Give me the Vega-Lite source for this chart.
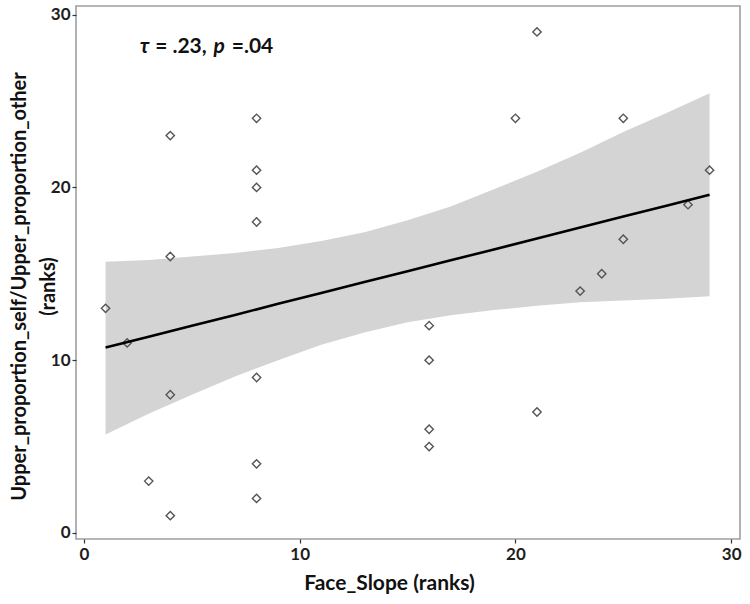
{
  "$schema": "https://vega.github.io/schema/vega-lite/v6.json",
  "width": 664,
  "height": 533,
  "autosize": "none",
  "padding": {"left": 76, "top": 6, "right": 10, "bottom": 65},
  "background": "white",
  "config": {
    "view": {"stroke": "#9e9e9e", "strokeWidth": 1.6},
    "font": "Lato",
    "axis": {
      "domain": false,
      "grid": false,
      "ticks": true,
      "tickColor": "#333333",
      "tickSize": 4,
      "tickWidth": 1.2,
      "labelFont": "Lato",
      "labelFontSize": 17,
      "labelFontWeight": "bold",
      "labelColor": "#1e1e1e",
      "titleFont": "Lato",
      "titleFontSize": 21,
      "titleFontWeight": "bold",
      "titleColor": "#111111"
    }
  },
  "datasets": {
    "pts": [
      {"face": 1, "upper": 13}, {"face": 2, "upper": 11}, {"face": 3, "upper": 3},
      {"face": 4, "upper": 23}, {"face": 4, "upper": 16}, {"face": 4, "upper": 8}, {"face": 4, "upper": 1},
      {"face": 8, "upper": 24}, {"face": 8, "upper": 21}, {"face": 8, "upper": 20}, {"face": 8, "upper": 18},
      {"face": 8, "upper": 9}, {"face": 8, "upper": 4}, {"face": 8, "upper": 2},
      {"face": 16, "upper": 12}, {"face": 16, "upper": 10}, {"face": 16, "upper": 6}, {"face": 16, "upper": 5},
      {"face": 20, "upper": 24}, {"face": 21, "upper": 29}, {"face": 21, "upper": 7},
      {"face": 23, "upper": 14}, {"face": 24, "upper": 15}, {"face": 25, "upper": 24}, {"face": 25, "upper": 17},
      {"face": 28, "upper": 19}, {"face": 29, "upper": 21}
    ],
    "band": [
      {"face": 1, "lo": 5.7, "fit": 10.73, "hi": 15.7},
      {"face": 3, "lo": 6.9, "fit": 11.36, "hi": 15.8},
      {"face": 5, "lo": 8.0, "fit": 11.99, "hi": 16.0},
      {"face": 7, "lo": 9.05, "fit": 12.62, "hi": 16.2},
      {"face": 9, "lo": 10.0, "fit": 13.26, "hi": 16.5},
      {"face": 11, "lo": 10.9, "fit": 13.89, "hi": 16.9},
      {"face": 13, "lo": 11.6, "fit": 14.52, "hi": 17.4},
      {"face": 15, "lo": 12.2, "fit": 15.15, "hi": 18.1},
      {"face": 17, "lo": 12.6, "fit": 15.78, "hi": 18.9},
      {"face": 19, "lo": 12.9, "fit": 16.41, "hi": 19.9},
      {"face": 21, "lo": 13.15, "fit": 17.04, "hi": 20.9},
      {"face": 23, "lo": 13.35, "fit": 17.68, "hi": 22.0},
      {"face": 25, "lo": 13.45, "fit": 18.31, "hi": 23.2},
      {"face": 27, "lo": 13.55, "fit": 18.94, "hi": 24.3},
      {"face": 29, "lo": 13.7, "fit": 19.57, "hi": 25.45}
    ],
    "note": [
      {"x": 2.6, "y": 27.8, "txt": "τ", "it": true},
      {"x": 3.3, "y": 27.8, "txt": "= .23,", "it": false},
      {"x": 6.0, "y": 27.8, "txt": "p", "it": true},
      {"x": 6.85, "y": 27.8, "txt": "=.04", "it": false}
    ]
  },
  "layer": [
    {
      "data": {"name": "band"},
      "mark": {"type": "area", "color": "#d4d4d4", "opacity": 1},
      "encoding": {
        "x": {
          "field": "face", "type": "quantitative",
          "scale": {"domain": [-0.37, 30.41], "nice": false, "zero": false},
          "axis": {
            "values": [0, 10, 20, 30],
            "title": "Face_Slope (ranks)",
            "labelPadding": 3,
            "titleX": 313,
            "titleY": 44,
            "titleBaseline": "middle"
          }
        },
        "y": {
          "field": "lo", "type": "quantitative",
          "scale": {"domain": [-0.35, 30.5], "nice": false, "zero": false},
          "axis": {
            "values": [0, 10, 20, 30],
            "title": ["Upper_proportion_self/Upper_proportion_other", "(ranks)"],
            "titleFontSize": 20,
            "titleLineHeight": 29,
            "titleX": -57,
            "titleY": 280,
            "titleAngle": -90,
            "titleAlign": "center",
            "titleBaseline": "middle",
            "labelPadding": 2
          }
        },
        "y2": {"field": "hi"}
      }
    },
    {
      "data": {"name": "pts"},
      "mark": {"type": "point", "shape": "diamond", "filled": false, "stroke": "#555555", "strokeWidth": 1.4, "size": 70, "opacity": 1},
      "encoding": {
        "x": {"field": "face", "type": "quantitative"},
        "y": {"field": "upper", "type": "quantitative"}
      }
    },
    {
      "data": {"name": "band"},
      "mark": {"type": "line", "color": "#000000", "strokeWidth": 2.6},
      "encoding": {
        "x": {"field": "face", "type": "quantitative"},
        "y": {"field": "fit", "type": "quantitative"}
      }
    },
    {
      "data": {"name": "note"},
      "transform": [{"filter": "datum.it"}],
      "mark": {"type": "text", "align": "left", "baseline": "alphabetic", "font": "Lato", "fontSize": 21, "fontWeight": "bold", "fontStyle": "italic", "color": "#111111"},
      "encoding": {
        "x": {"field": "x", "type": "quantitative"},
        "y": {"field": "y", "type": "quantitative"},
        "text": {"field": "txt"}
      }
    },
    {
      "data": {"name": "note"},
      "transform": [{"filter": "!datum.it"}],
      "mark": {"type": "text", "align": "left", "baseline": "alphabetic", "font": "Lato", "fontSize": 21, "fontWeight": "bold", "color": "#111111"},
      "encoding": {
        "x": {"field": "x", "type": "quantitative"},
        "y": {"field": "y", "type": "quantitative"},
        "text": {"field": "txt"}
      }
    }
  ]
}
